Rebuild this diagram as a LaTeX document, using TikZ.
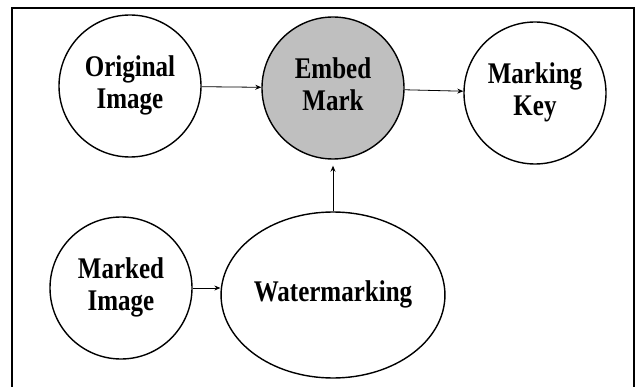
\documentclass[tikz,border=0pt]{standalone}
\usepackage{fontspec}
\setmainfont{Liberation Serif}
\usetikzlibrary{shapes.geometric}
\usetikzlibrary{arrows.meta}
\newcommand{\tall}[1]{\scalebox{1}[1.2]{\begin{tabular}{@{}c@{}}#1\end{tabular}}}
\tikzstyle{bubble}=[circle, draw, line width=1.4pt, minimum size=142pt, inner sep=0pt, font=\fontsize{25}{27}\selectfont\bfseries]
\tikzstyle{arr}=[line width=0.8pt, -{Stealth[length=6pt, width=5pt]}]

\begin{document}
\begin{tikzpicture}[x=1pt, y=-1pt]
        \useasboundingbox (0,0) rectangle (642,387);
        % marco
        \draw[line width=2pt] (12,387) -- (12,8) -- (634,8) -- (634,387);

        % nodos
        \node[bubble] (orig) at (130, 86) {\tall{Original\\Image}};
        \node[bubble, fill=black!25] (embed) at (333, 88) {\tall{Embed\\Mark}};
        \node[bubble] (key) at (535, 93) {\tall{Marking\\Key}};
        \node[bubble] (marked) at (121, 288) {\tall{Marked\\Image}};
        \node[bubble, ellipse, minimum width=200pt, minimum height=166pt] (water) at (333, 295) {\tall{Watermarking}};

        % flechas
        \draw[arr] (orig) -- (embed);
        \draw[arr] (embed) -- (key);
        \draw[arr] (marked.east) -- (marked.east -| water.west);
        \draw[arr, shorten >=6pt] (water.north) -- (embed.south);
    \end{tikzpicture}
\end{document}
